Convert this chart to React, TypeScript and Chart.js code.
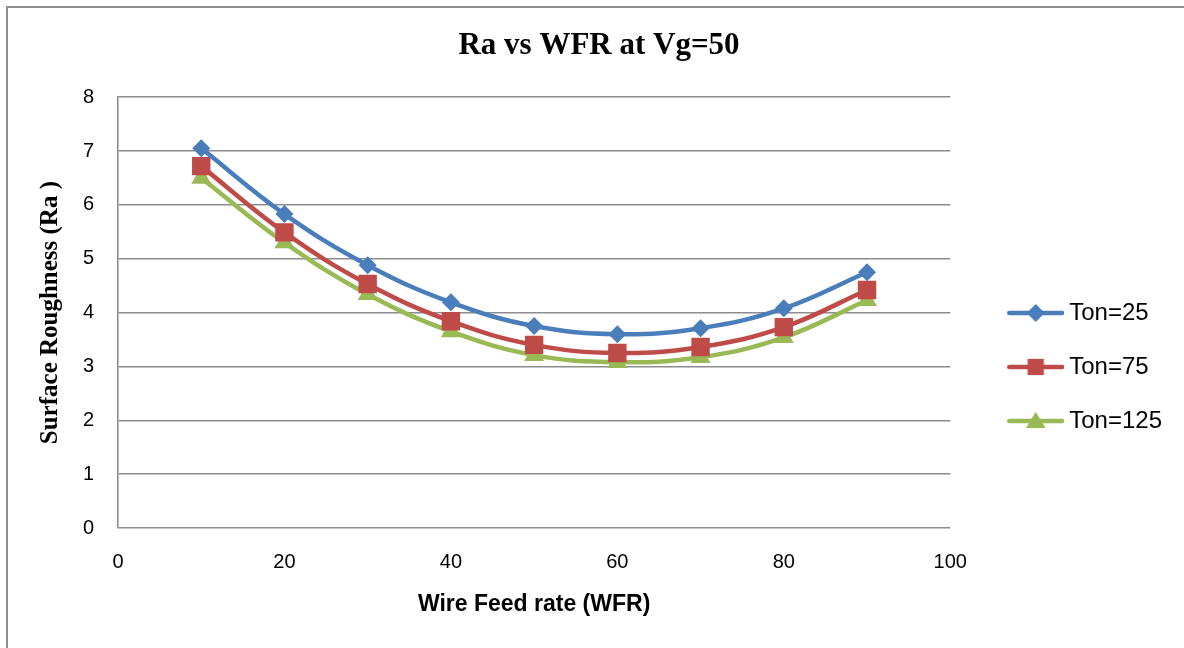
import React, { useEffect, useRef } from 'react';
import { Chart, registerables } from 'chart.js';

Chart.register(...registerables);

const wfr = [10, 20, 30, 40, 50, 60, 70, 80, 90];
const ton25 = [7.05, 5.83, 4.88, 4.19, 3.75, 3.6, 3.71, 4.08, 4.75];
const ton75 = [6.72, 5.49, 4.53, 3.84, 3.4, 3.25, 3.36, 3.73, 4.42];
const ton125 = [6.5, 5.3, 4.34, 3.65, 3.21, 3.08, 3.17, 3.54, 4.23];
const seriesLabels = ['Ton=25', 'Ton=75', 'Ton=125'];
const seriesColors = ['#4A7EBB', '#BE4B48', '#98B954'];
const seriesMarkers = ['rectRot', 'rect', 'triangle'];
const markerRadius = [9, 13, 11.5];
const legendMarkerRadius = [9, 11.5, 11];
const chartTitle = 'Ra vs WFR at Vg=50';
const xTitle = 'Wire Feed rate (WFR)';
const yTitle = 'Surface Roughness (Ra )';

function makeLegendSample(color: string, marker: string, r: number) {
  const c = document.createElement('canvas');
  c.width = 91;
  c.height = 28;
  const ctx = c.getContext('2d')!;
  ctx.strokeStyle = color;
  ctx.fillStyle = color;
  ctx.lineWidth = 4.5;
  ctx.lineCap = 'round';
  ctx.beginPath();
  ctx.moveTo(36, 14);
  ctx.lineTo(89, 14);
  ctx.stroke();
  const cx = 62.5;
  const cy = 14;
  ctx.beginPath();
  if (marker === 'rectRot') {
    ctx.moveTo(cx - r, cy);
    ctx.lineTo(cx, cy - r);
    ctx.lineTo(cx + r, cy);
    ctx.lineTo(cx, cy + r);
  } else if (marker === 'rect') {
    const s = r * Math.SQRT1_2;
    ctx.rect(cx - s, cy - s, 2 * s, 2 * s);
  } else {
    const h = r * 0.85;
    ctx.moveTo(cx, cy - h);
    ctx.lineTo(cx + h * 1.05, cy + h * 0.75);
    ctx.lineTo(cx - h * 1.05, cy + h * 0.75);
  }
  ctx.closePath();
  ctx.fill();
  return c;
}

export default function App() {
  const ref = useRef<HTMLCanvasElement | null>(null);

  useEffect(() => {
    document.body.style.margin = '0';
    const canvas = ref.current!;
    const samples = seriesLabels.map((_, i) => makeLegendSample(seriesColors[i], seriesMarkers[i], legendMarkerRadius[i]));
    const series = [ton25, ton75, ton125];

    const frame = {
      id: 'frame',
      beforeDraw(chart: any) {
        const ctx = chart.ctx;
        ctx.save();
        ctx.fillStyle = '#ffffff';
        ctx.fillRect(0, 0, chart.width, chart.height);
        ctx.strokeStyle = '#8f8f8f';
        ctx.lineWidth = 2;
        ctx.beginPath();
        ctx.moveTo(7, chart.height);
        ctx.lineTo(7, 7);
        ctx.lineTo(chart.width, 7);
        ctx.stroke();
        ctx.restore();
      },
    };

    const chart = new Chart(canvas, {
      type: 'line',
      data: {
        datasets: series.map((vals, i) => ({
          label: seriesLabels[i],
          data: vals.map((v, j) => ({ x: wfr[j], y: v })),
          borderColor: seriesColors[i],
          backgroundColor: seriesColors[i],
          borderWidth: 4.5,
          tension: 0.4,
          pointStyle: seriesMarkers[i] as any,
          pointRadius: markerRadius[i],
          pointBorderWidth: 0,
          pointBackgroundColor: seriesColors[i],
          pointBorderColor: seriesColors[i],
          fill: false,
        })),
      },
      options: {
        responsive: false,
        animation: false,
        layout: { padding: { left: 26, right: 12, top: 0, bottom: 0 } },
        plugins: {
          title: {
            display: true,
            text: chartTitle,
            color: '#000',
            font: { family: '"Liberation Serif", serif', size: 31, weight: 'bold' },
            padding: { top: 27, bottom: 33 },
          },
          legend: {
            position: 'right',
            align: 'center',
            title: {
              display: true,
              text: ' ',
              font: { size: 12 },
              padding: { top: 0, bottom: 71.6 },
            },
            labels: {
              usePointStyle: true,
              pointStyleWidth: 77,
              padding: 30,
              color: '#000',
              font: { family: '"Liberation Sans", sans-serif', size: 24 },
              generateLabels: () =>
                seriesLabels.map((t, i) => ({
                  text: t,
                  fillStyle: seriesColors[i],
                  strokeStyle: seriesColors[i],
                  lineWidth: 0,
                  pointStyle: samples[i] as any,
                  datasetIndex: i,
                  hidden: false,
                  fontColor: '#000',
                })),
            },
          },
          tooltip: { enabled: false },
        },
        scales: {
          x: {
            type: 'linear',
            min: 0,
            max: 100,
            afterFit: (s: any) => {
              s.height = 120;
            },
            ticks: {
              stepSize: 20,
              padding: 22,
              color: '#000',
              font: { family: '"Liberation Sans", sans-serif', size: 20 },
            },
            grid: { display: false, drawTicks: false },
            border: { display: false },
            title: {
              display: true,
              text: xTitle,
              color: '#000',
              font: { family: '"Liberation Sans", sans-serif', size: 23, weight: 'bold' },
              padding: { top: 0, bottom: 30 },
            },
          },
          y: {
            min: 0,
            max: 8,
            afterFit: (s: any) => {
              s.width = 92;
            },
            ticks: {
              stepSize: 1,
              padding: 24,
              color: '#000',
              font: { family: '"Liberation Sans", sans-serif', size: 20 },
            },
            grid: { color: '#8c8c8c', lineWidth: 1.6, drawTicks: false },
            border: { display: true, color: '#8c8c8c', width: 1.6 },
            title: {
              display: true,
              text: yTitle,
              color: '#000',
              font: { family: '"Liberation Serif", serif', size: 25, weight: 'bold' },
              padding: { top: 10, bottom: 0 },
            },
          },
        },
      },
      plugins: [frame],
    });
    return () => chart.destroy();
  }, []);

  return (
    <div style={{ position: 'absolute', left: 0, top: 0, width: 1184, height: 648 }}>
      <canvas ref={ref} width={1184} height={648} style={{ display: 'block' }} />
    </div>
  );
}
